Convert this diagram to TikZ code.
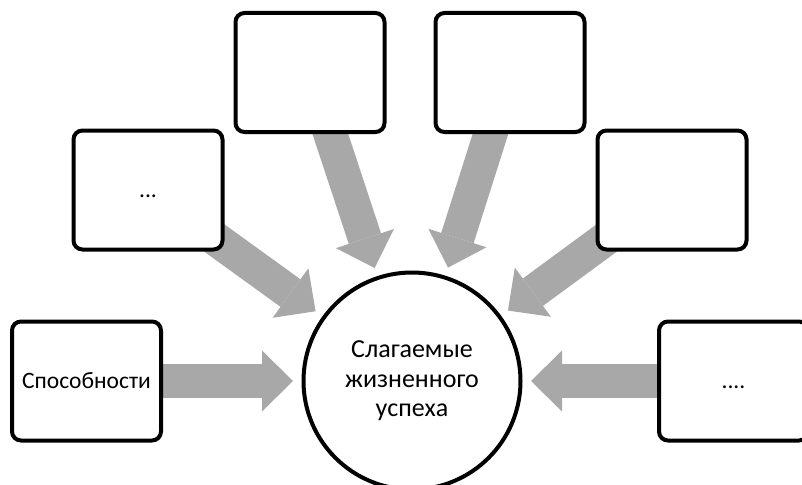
\documentclass[tikz,border=0pt]{standalone}
\usepackage{fontspec}
\setmainfont{Carlito}
\usetikzlibrary{arrows.meta,backgrounds}

\definecolor{flowgray}{RGB}{168,168,168}

\tikzset{
  card/.style={draw, line width=4pt, rounded corners=9pt, fill=white,
    minimum width=149pt, minimum height=119pt, inner sep=0pt,
    text height=15pt, text depth=0pt, font=\fontsize{23.5}{27}\selectfont},
  goalcircle/.style={draw, circle, line width=4pt, fill=white,
    minimum size=217pt, inner sep=0pt, align=center,
    font=\fontsize{26}{29.5}\selectfont},
  flow/.style={draw=flowgray, line width=34pt, shorten >=8.5pt,
    -{Triangle[width=61pt,length=31pt,line width=0pt]}}
}

\begin{document}
\begin{tikzpicture}[x=1pt,y=-1pt]
  \useasboundingbox (0,0) rectangle (802,484);
  % Centre circle
  \node[goalcircle] (goal) at (412,381) {Слагаемые\\жизненного\\успеха};
  % Boxes round it
  \node[card] (abil) at (86.5,381) {Способности};
  \node[card] (midl) at (148,190) {...};
  \node[card] (topl) at (310,72.5) {};
  \node[card] (topr) at (510,72.5) {};
  \node[card] (midr) at (672,190) {};
  \node[card] (lowr) at (733.5,381) {....};
  % Arrows, behind the boxes
  \begin{scope}[on background layer]
    \foreach \b in {abil,midl,topl,topr,midr,lowr}
      \draw[flow] (\b.center) -- (goal);
  \end{scope}
\end{tikzpicture}
\end{document}
